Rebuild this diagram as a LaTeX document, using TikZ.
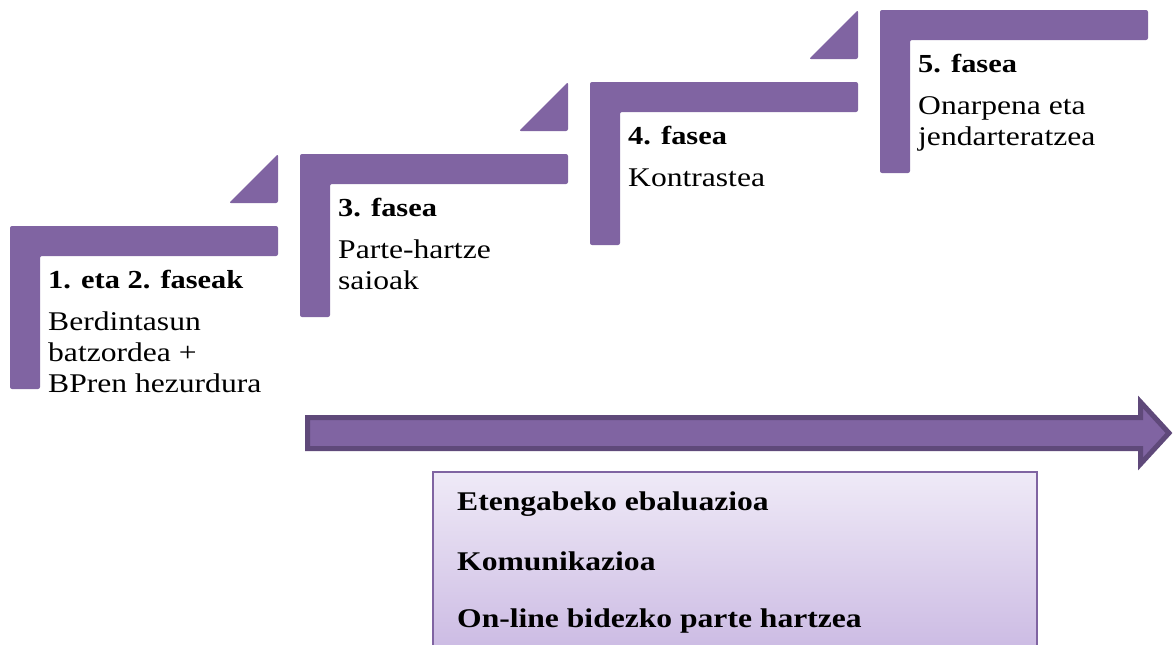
\documentclass[tikz,border=0pt]{standalone}
\usepackage{fontspec}
\setmainfont{Liberation Serif}[FakeStretch=1.17]
\definecolor{stepfill}{HTML}{8064A2}
\definecolor{arrowedge}{HTML}{5F497A}
\definecolor{boxtop}{HTML}{EFEAF7}
\definecolor{boxbot}{HTML}{C6B3E0}
\tikzset{
  stepshape/.style={fill=stepfill, rounded corners=2pt},
  headtxt/.style={anchor=base west, inner sep=0pt, font=\fontsize{26}{31}\selectfont\bfseries},
  bodytxt/.style={anchor=north west, inner sep=0pt, align=left, font=\fontsize{27}{31}\selectfont},
  listtxt/.style={anchor=base west, inner sep=0pt, font=\fontsize{27}{31}\selectfont\bfseries},
}
\newcommand{\stepcorner}[2]{%
  \fill[stepshape] (#1,#2) -- (#1+268,#2) -- (#1+268,#2+30) -- (#1+30,#2+30) -- (#1+30,#2+163) -- (#1,#2+163) -- cycle;
  \fill[stepshape] (#1+268,#2-72) -- (#1+268,#2-23) -- (#1+219,#2-23) -- cycle;
}
\newcommand{\asc}{\vphantom{d}}
\begin{document}
\begin{tikzpicture}[x=1pt,y=-1pt]
\useasboundingbox (0,0) rectangle (1173,645);
\clip (0,0) rectangle (1173,645);
\stepcorner{10}{226}
\stepcorner{300}{154}
\stepcorner{590}{82}
\fill[stepshape] (880,10) -- (1148,10) -- (1148,40) -- (910,40) -- (910,173) -- (880,173) -- cycle;
% texts
\node[headtxt] (h1) at (48,288) {1. eta 2. faseak};
\node[bodytxt] (b1) at (48,311.6) {\asc Berdintasun\\batzordea +\\BPren hezurdura};
\node[headtxt] (h3) at (338,216) {3. fasea};
\node[bodytxt] (b3) at (338,239.6) {\asc Parte-hartze\\saioak};
\node[headtxt] (h4) at (628,144) {4. fasea};
\node[bodytxt] (b4) at (628,167.6) {\asc Kontrastea};
\node[headtxt] (h5) at (918,72) {5. fasea};
\node[bodytxt] (b5) at (918,95.6) {\asc Onarpena eta\\jendarteratzea};
% arrow
\path[fill=stepfill, draw=arrowedge, line width=5pt, line join=miter]
  (307.5,417.5) -- (1140.5,417.5) -- (1140.5,402) -- (1169,433) -- (1140.5,464) -- (1140.5,448.5) -- (307.5,448.5) -- cycle;
% box
\shade[top color=boxtop, bottom color=boxbot, draw=stepfill, line width=1.5pt] (433,472) rectangle (1037,680);
\node[listtxt] (l1) at (457,510) {Etengabeko ebaluazioa};
\node[listtxt] (l2) at (457,570) {Komunikazioa};
\node[listtxt] (l3) at (457,627) {On-line bidezko parte hartzea};
\end{tikzpicture}
\end{document}
